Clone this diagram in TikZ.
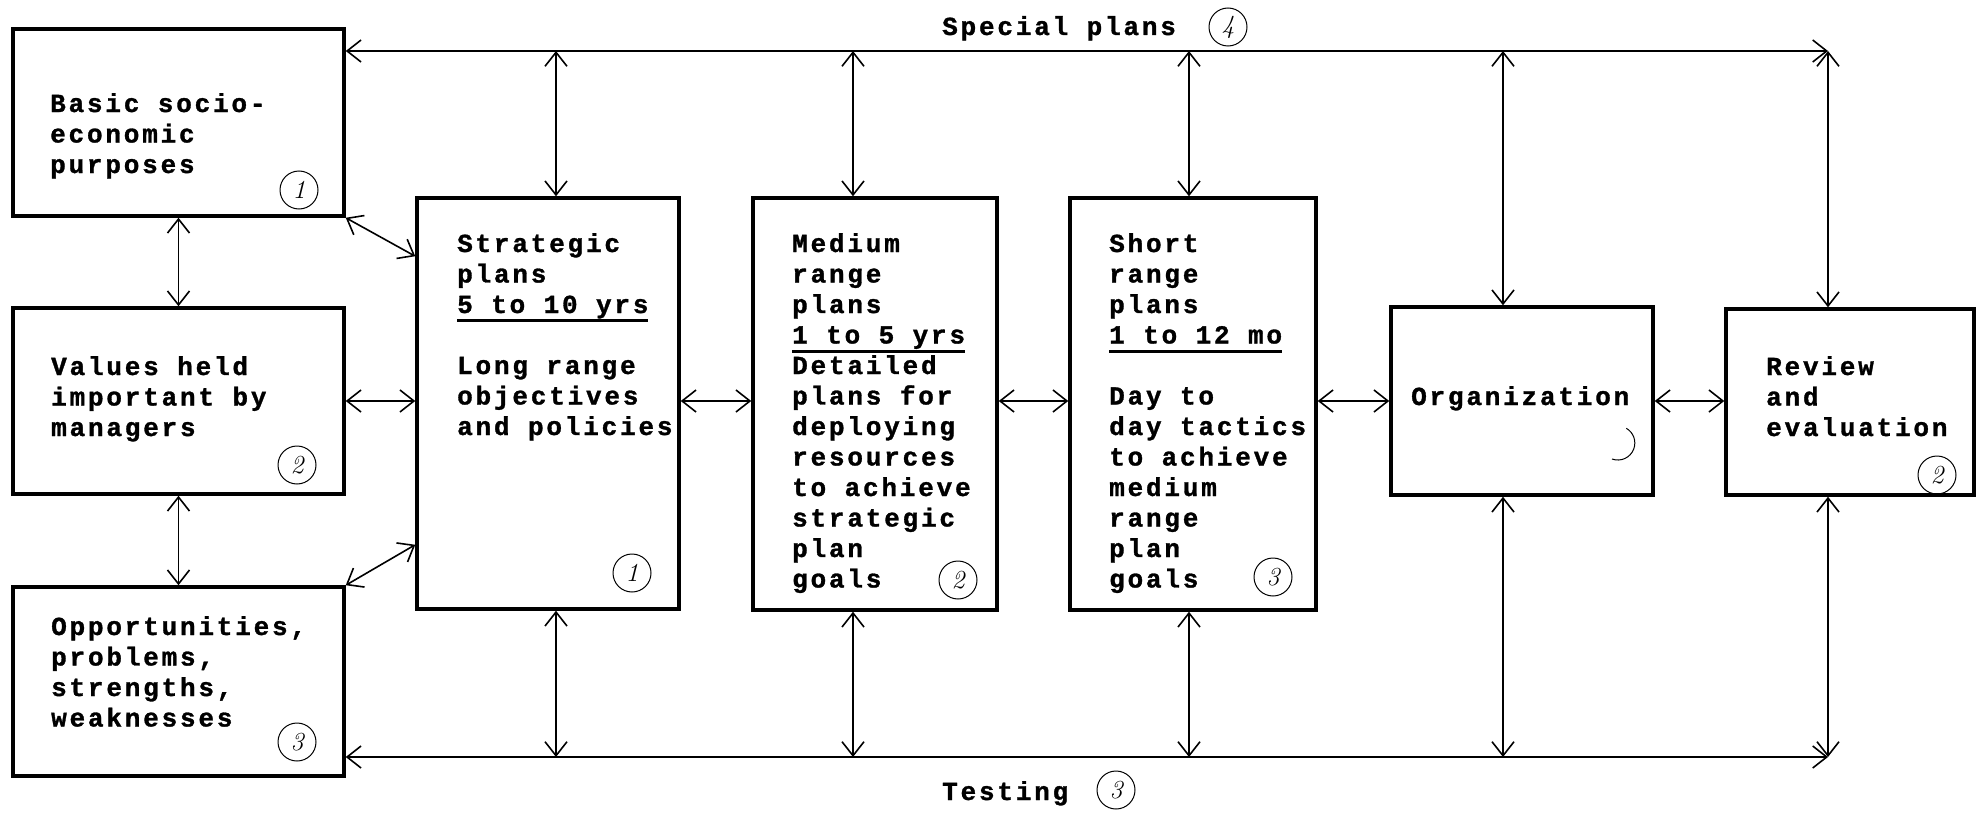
\documentclass[tikz,border=0pt]{standalone}
\usepackage{fontspec}
\usetikzlibrary{arrows.meta}
\newfontfamily\typewr{Liberation Mono}[LetterSpace=10.8, BoldFeatures={FakeBold=1.2}]
\newsavebox\ulbox
\newcommand\ulin[1]{\sbox\ulbox{#1}\rlap{\rule[-9pt]{\wd\ulbox}{3pt}}\usebox\ulbox}

\begin{document}
\begin{tikzpicture}[x=1pt,y=-1pt,
  box/.style={draw, line width=3.5pt, inner sep=0pt},
  txt/.style={anchor=base west, align=left, inner sep=0pt},
  num/.style={draw, circle, line width=1pt, minimum size=38pt, inner sep=0pt, font=\rmfamily\itshape\fontsize{26pt}{26pt}\selectfont},
  conn/.style={<->, line width=1.6pt},
  >={Straight Barb[length=14pt,width=22pt]},
  every node/.append style={font=\typewr\bfseries\fontsize{26pt}{30.5pt}\selectfont}]
\useasboundingbox (0,0) rectangle (1982,816);
\node[box, minimum width=331pt, minimum height=187pt] (basic) at (178.5,122.5) {};
\node[box, minimum width=331pt, minimum height=186pt] (values) at (178.5,401) {};
\node[box, minimum width=331pt, minimum height=189pt] (opport) at (178.5,681.5) {};
\node[box, minimum width=262pt, minimum height=411pt] (strat) at (548,403.5) {};
\node[box, minimum width=244pt, minimum height=412pt] (medium) at (875,404) {};
\node[box, minimum width=246pt, minimum height=412pt] (short) at (1193,404) {};
\node[box, minimum width=262pt, minimum height=188pt] (organ) at (1522,401) {};
\node[box, minimum width=248pt, minimum height=186pt] (review) at (1850,402) {};

\node[txt] (t-basic) at (50,173) {Basic socio-\\economic\\purposes};
\node[txt] (t-values) at (51,436) {Values held\\important by\\managers};
\node[txt] (t-opport) at (51,726.5) {Opportunities,\\problems,\\strengths,\\weaknesses};
\node[txt] (t-strat) at (457,435) {Strategic\\plans\\\ulin{5 to 10 yrs}\\[30.5pt]Long range\\objectives\\and policies};
\node[txt] (t-medium) at (792,587.5) {Medium\\range\\plans\\\ulin{1 to 5 yrs}\\Detailed\\plans for\\deploying\\resources\\to achieve\\strategic\\plan\\goals};
\node[txt] (t-short) at (1109,587.5) {Short\\range\\plans\\\ulin{1 to 12 mo}\\[30.5pt]Day to\\day tactics\\to achieve\\medium\\range\\plan\\goals};
\node[txt] (t-organ) at (1411,405) {Organization};
\node[txt] (t-review) at (1766,436) {Review\\and\\evaluation};
\node[txt] (t-special) at (942,35) {Special plans};
\node[txt] (t-testing) at (942,800) {Testing};

\node[num] (c-basic) at (299,190) {1};
\node[num] (c-values) at (297,465) {2};
\node[num] (c-opport) at (297,742) {3};
\node[num] (c-strat) at (632,573) {1};
\node[num] (c-medium) at (958,580) {2};
\node[num] (c-short) at (1273,577) {3};
\node[num] (c-review) at (1937,475) {2};
\node[num] (c-special) at (1228,27) {4};
\node[num] (c-testing) at (1116,790) {3};
\draw[line width=1pt] (1612,459) arc[start angle=110, end angle=-60, radius=17];

\foreach \b/\x in {strat/556,medium/853,short/1189,organ/1503,review/1828}{
  \coordinate (sp-\b) at (\x,51);
  \coordinate (te-\b) at (\x,757);
  \draw[conn] (sp-\b) -- (sp-\b |- \b.north);
  \draw[conn] (te-\b |- \b.south) -- (te-\b);
}
\draw[conn] (basic.east |- sp-strat) -- (sp-review);
\draw[conn] (opport.east |- te-strat) -- (te-review);

\draw[conn] (basic.south) -- (values.north);
\draw[conn] (values.south) -- (opport.north);
\draw[conn] (basic.south east) -- ([yshift=-60pt]strat.north west);
\draw[conn] (opport.north east) -- ([yshift=66pt]strat.south west);
\draw[conn] (values.east) -- (values.east -| strat.west);
\draw[conn] (strat.east |- values.east) -- (values.east -| medium.west);
\draw[conn] (medium.east |- values.east) -- (values.east -| short.west);
\draw[conn] (short.east |- values.east) -- (values.east -| organ.west);
\draw[conn] (organ.east |- values.east) -- (values.east -| review.west);
\end{tikzpicture}
\end{document}
